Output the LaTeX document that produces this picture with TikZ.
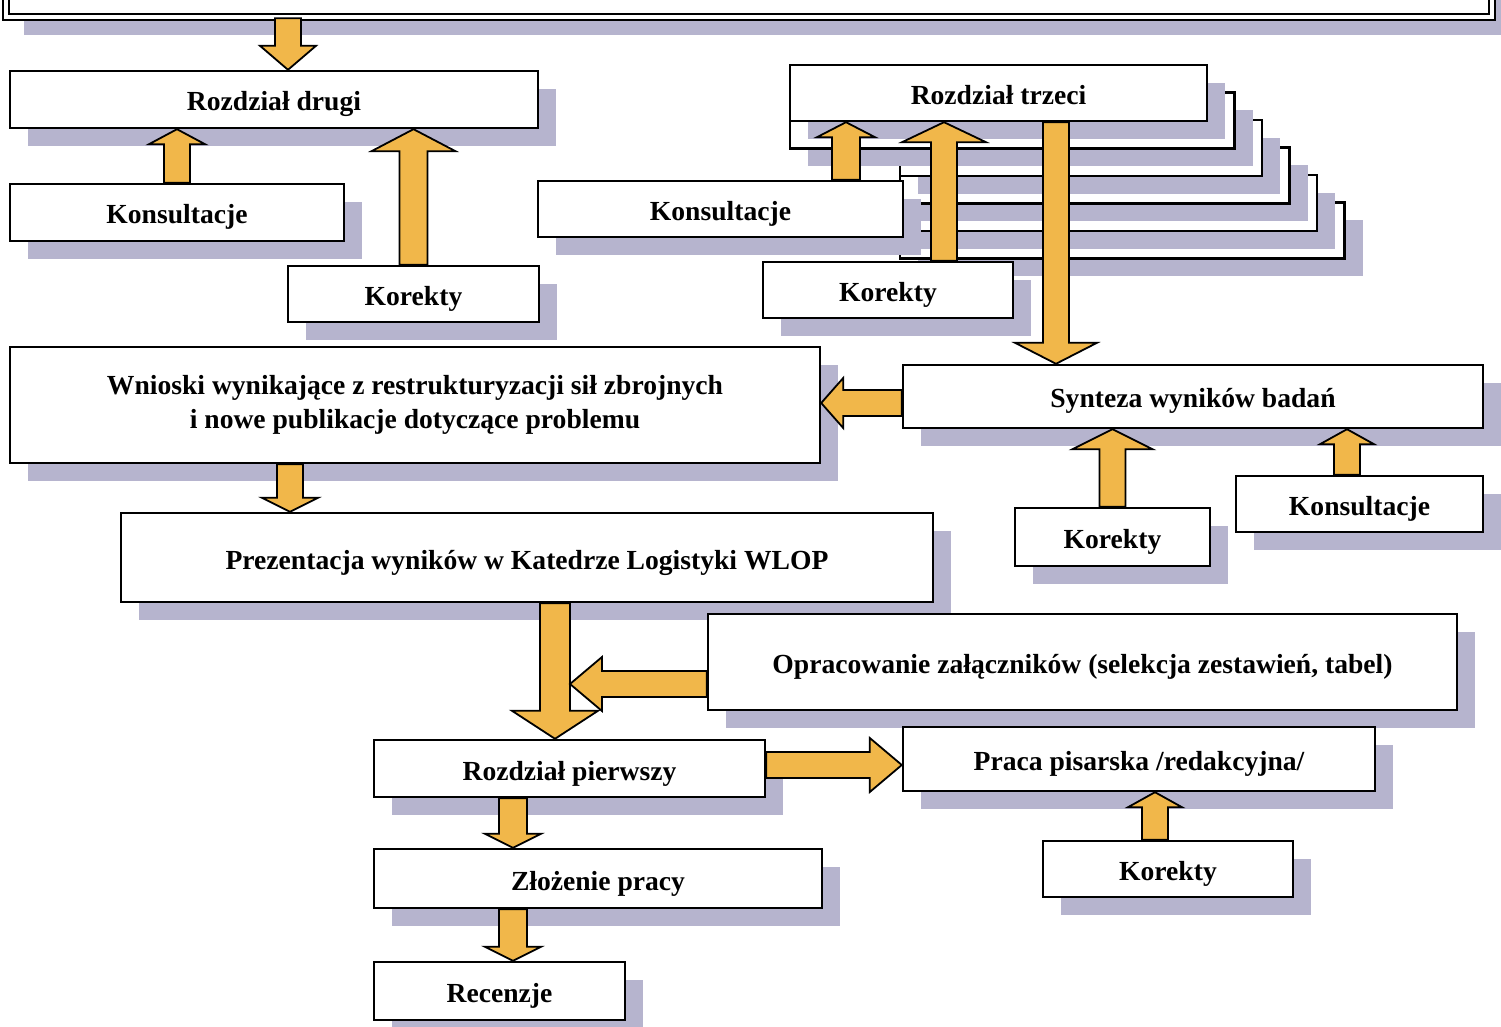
\documentclass[tikz,border=0pt]{standalone}
\usepackage{fontspec}
\setmainfont{Liberation Serif}
\usetikzlibrary{calc,shadows}
\definecolor{arrowc}{RGB}{241,183,74}
\definecolor{shadowc}{RGB}{182,180,206}

\begin{document}
\begin{tikzpicture}[x=0.5pt, y=-0.5pt,
  box/.style={draw, line width=1.2pt, fill=white, inner sep=0pt, align=center,
    font=\fontsize{13.8}{17}\selectfont\bfseries, text height=12.5pt, text depth=1pt,
    drop shadow={shadow xshift=9pt, shadow yshift=-9pt, fill=shadowc, opacity=1}},
  sz/.style 2 args={minimum width=(#1)*0.5pt, minimum height=(#2)*0.5pt},
  fat/.style n args={3}{draw, line width=0.9pt, fill=arrowc, to path={
    ($(\tikztostart)!{#1*0.5pt}!90:(\tikztotarget)$)
    -- ($(\tikztotarget)!{veclen(#1,#3)*0.5pt}!{-atan(#1/#3)}:(\tikztostart)$)
    -- ($(\tikztotarget)!{veclen(#2,#3)*0.5pt}!{-atan(#2/#3)}:(\tikztostart)$)
    -- (\tikztotarget)
    -- ($(\tikztotarget)!{veclen(#2,#3)*0.5pt}!{atan(#2/#3)}:(\tikztostart)$)
    -- ($(\tikztotarget)!{veclen(#1,#3)*0.5pt}!{atan(#1/#3)}:(\tikztostart)$)
    -- ($(\tikztostart)!{#1*0.5pt}!-90:(\tikztotarget)$) -- cycle}}]
  \useasboundingbox (0,0) rectangle (1501,1027);

  \node[box, double, double distance=2pt, sz={1486}{58}] (intro) at (749,-12) {};
  \node[box, sz={528}{57}] (drugi) at (274,99.5) {Rozdział drugi};
  \node[box, sz={334}{57}] (konsL) at (177,212.5) {Konsultacje};
  \node[box, sz={251}{56}] (korL) at (413.5,294) {Korekty};

  \foreach \k in {5,4,3,2}
    \node[box, sz={307+27.5*\k}{56}] (page\k) at ({1053.5+13.75*\k},{93+27.5*\k}) {};
  \node[box, sz={444.5}{56}] (page1) at (1012.25,120.5) {};
  \node[box, sz={417}{56}] (trzeci) at (998.5,93) {Rozdział trzeci};
  \node[box, sz={365}{56}] (konsM) at (720.5,209) {Konsultacje};
  \node[box, sz={250}{56}] (korM) at (888,290) {Korekty};

  \node[box, sz={810}{116}, text height=, text depth=] (wnioski) at (415,405)
    {Wnioski wynikające z restrukturyzacji sił zbrojnych\\ i nowe publikacje dotyczące problemu};
  \node[box, sz={580}{63}] (synteza) at (1193,396.5) {Synteza wyników badań};
  \node[box, sz={195}{58}] (korR) at (1112.5,537) {Korekty};
  \node[box, sz={247}{56}] (konsR) at (1359.5,504) {Konsultacje};

  \node[box, sz={812}{89}] (prez) at (527,557.5) {Prezentacja wyników w Katedrze Logistyki WLOP};
  \node[box, sz={749}{96}] (oprac) at (1082.5,662) {Opracowanie załączników (selekcja zestawień, tabel)};
  \node[box, sz={391}{57}] (pierwszy) at (569.5,768.5) {Rozdział pierwszy};
  \node[box, sz={472}{64}] (praca) at (1139,759) {Praca pisarska /redakcyjna/};
  \node[box, sz={250}{56}] (korB) at (1168,869) {Korekty};
  \node[box, sz={448}{59}] (zlozenie) at (598,878.5) {Złożenie pracy};
  \node[box, sz={251}{58}] (recenzje) at (499.5,991) {Recenzje};

  \draw[fat={13}{28}{24}] (intro.south -| 288,0) to (drugi.north -| 288,0);
  \draw[fat={13}{28}{15}] (konsL.north) to (drugi.south -| konsL.north);
  \draw[fat={14}{42}{22}] (korL.north) to (drugi.south -| korL.north);
  \draw[fat={14}{29}{15}] (konsM.north -| 846,0) to (trzeci.south -| 846,0);
  \draw[fat={13}{42}{20}] (korM.north -| 944,0) to (trzeci.south -| 944,0);
  \draw[fat={13}{41}{21}] (trzeci.south -| 1056,0) to (synteza.north -| 1056,0);
  \draw[fat={13}{25}{22}] (synteza.west |- 0,403) to (wnioski.east |- 0,403);
  \draw[fat={13}{40}{20}] (korR.north) to (synteza.south -| korR.north);
  \draw[fat={13}{27}{15}] (konsR.north -| 1347,0) to (synteza.south -| 1347,0);
  \draw[fat={13}{28}{14}] (wnioski.south -| 290,0) to (prez.north -| 290,0);
  \draw[fat={15}{43}{28}] (prez.south -| 555,0) to (pierwszy.north -| 555,0);
  \coordinate (joint) at (570,684);
  \draw[fat={13}{27}{32}] (oprac.west |- joint) to (joint);
  \draw[fat={13}{27}{32}] (pierwszy.east |- 0,765) to (praca.west |- 0,765);
  \draw[fat={13}{27}{15}] (korB.north -| 1155,0) to (praca.south -| 1155,0);
  \draw[fat={14}{28}{14}] (pierwszy.south -| 513,0) to (zlozenie.north -| 513,0);
  \draw[fat={14}{28}{14}] (zlozenie.south -| 513,0) to (recenzje.north -| 513,0);
\end{tikzpicture}
\end{document}
